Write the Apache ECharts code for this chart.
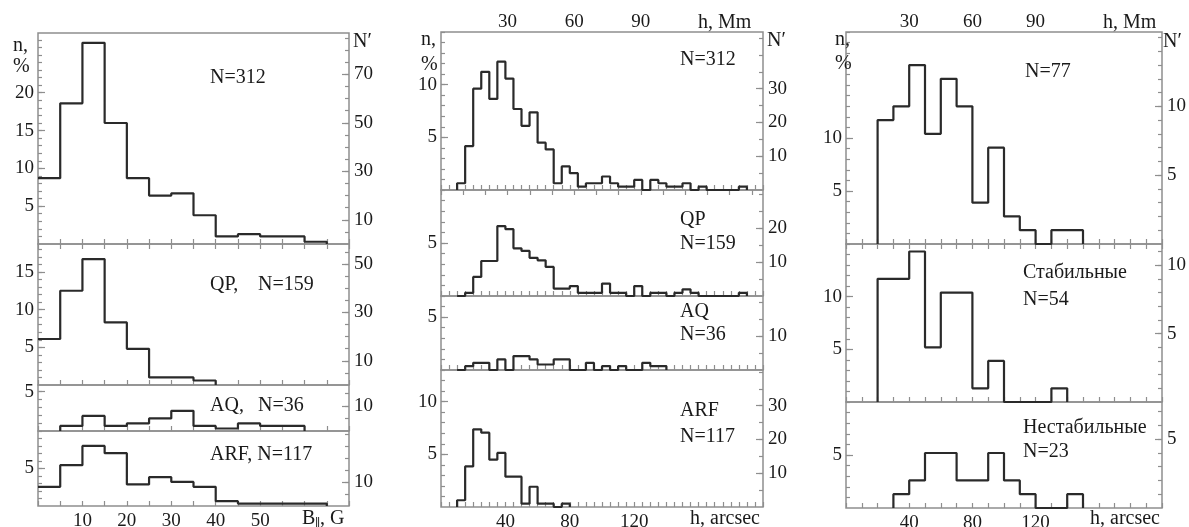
<!DOCTYPE html>
<html><head><meta charset="utf-8">
<script src="https://cdn.jsdelivr.net/npm/echarts@6/dist/echarts.min.js"></script>
<style>html,body{margin:0;padding:0;background:#fff}#c{width:1189px;height:527px}</style>
</head><body><div id="c"></div>
<script>
// ---------- DATA ----------
// Panel A: B||, G  (bin width 5 G), values in % of total (N=312)
const bStartsAll = [0,5,10,15,20,25,30,35,40,45,50,55,60];
const bAll       = [8.7,18.6,26.6,16.0,8.7,6.4,6.7,3.8,1.0,1.3,1.0,1.0,0.3];
const bStartsQP  = [0,5,10,15,20,25,30,35];
const bQP        = [6.1,12.5,16.7,8.3,4.8,1.0,1.0,0.6];
const bStartsAQ  = [5,10,15,20,25,30,35,40,45,50,55];
const bAQ        = [0.64,1.92,0.64,0.96,1.60,2.56,0.64,0.32,0.96,0.64,0.64];
const bStartsARF = [0,5,10,15,20,25,30,35,40,45,50,55,60];
const bARF       = [2.56,5.45,8.01,7.05,2.88,3.85,3.21,2.56,0.64,0.32,0.32,0.32,0.32];
const bTickLabels = [10,20,30,40,50];

// Panel B: h, arcsec (bin width 5"), % of total (N=312)
const hStarts = [10,15,20,25,30,35,40,45,50,55,60,65,70,75,80,85,90,95,100,105,110,115,120,125,130,135,140,145,150,155,160,165,170,175,180,185];
const hAll = [0.64,4.17,9.62,11.22,8.65,12.18,10.58,7.69,6.09,7.37,4.49,3.85,0.64,2.24,1.60,0.32,0.64,0.64,1.28,0.64,0.32,0.32,0.96,0,0.96,0.64,0.32,0.32,0.64,0,0.32,0,0,0,0,0.32];
const hQP  = [0,0.3,1.8,3.3,3.3,6.6,6.3,4.5,4.25,3.6,3.37,2.74,0.7,0.7,0.94,0.3,0.3,0.3,1.17,0.3,0.3,0,0.94,0,0.3,0.3,0,0.3,0.63,0.3,0,0,0,0,0,0.3];
const hStartsAQ = [10,15,20,25,30,35,40,45,50,55,60,65,70,75,80,85,90,95,100,105,110,115,120,125,130,135];
const hAQ  = [0,0.36,0.68,0.68,0,1.0,0,1.32,1.32,1.0,0.52,0.52,1.0,1.0,0,0,0.68,0,0.36,0,0.36,0,0,0.68,0.36,0.36];
const hStartsARF = [10,15,20,25,30,35,40,45,50,55,60,65,70,75];
const hARF = [0.64,3.85,7.37,7.05,4.49,5.13,2.88,2.88,0.32,1.92,0.32,0.32,0,0.32];
const hTickLabels = [40,80,120];
const mmTickLabels = [30,60,90];

// Panel C: h, arcsec (bin width 10"), % of total (N=77)
const cStartsAll = [20,30,40,50,60,70,80,90,100,110,120,130,140];
const cAll       = [11.69,12.99,16.88,10.39,15.58,12.99,3.90,9.09,2.60,1.30,0,1.30,1.30];
const cStartsSt  = [20,30,40,50,60,70,80,90,100,110,120,130];
const cStable    = [11.69,11.69,14.29,5.19,10.39,10.39,1.30,3.90,0,0,0,1.30];
const cStartsUn  = [30,40,50,60,70,80,90,100,110,120,130,140];
const cUnstable  = [1.30,2.60,5.19,5.19,2.60,2.60,5.19,2.60,1.30,0,0,1.30];

// ---------- STYLE / LAYOUT ----------
const FONT = '"Liberation Serif","DejaVu Serif",serif';
const INK = '#1a1a1a';
const LINE = '#2a2a2a';
const FRAME = '#8e8e8e';
const TICKFS = 19;

function seq(a, b, s) { const r = []; for (let i = 0; a + i * s <= b + 1e-9; i++) r.push(+(a + i * s).toFixed(4)); return r; }

const panels = [
  { left: 38, width: 311, xMax: 70, xTicks: seq(0,70,5), xLabels: bTickLabels, xBinW: 5,
    top: { max: 70, ticks: seq(0,70,5), labels: [] }, total: 312,
    subs: [
      { top: 33,  h: 211, yMax: 27.9, yLab: [5,10,15,20], rLab: [10,30,50,70], rStep: 5, starts: bStartsAll, vals: bAll },
      { top: 244, h: 141, yMax: 18.7, yLab: [5,10,15],    rLab: [10,30,50],    rStep: 5, starts: bStartsQP,  vals: bQP },
      { top: 385, h: 46,  yMax: 5.85, yLab: [5],          rLab: [10],          rStep: 5, starts: bStartsAQ,  vals: bAQ },
      { top: 431, h: 75,  yMax: 10.0, yLab: [5],          rLab: [10],          rStep: 5, starts: bStartsARF, vals: bARF }
    ] },
  { left: 441, width: 322, xMax: 200, xTicks: seq(0,200,5), xLabels: hTickLabels, xBinW: 5,
    top: { max: 145, ticks: seq(0,140,10), labels: mmTickLabels }, total: 312,
    subs: [
      { top: 32,  h: 158, yMax: 15,  yLab: [5,10], rLab: [10,20,30], rStep: 5, starts: hStarts,    vals: hAll },
      { top: 190, h: 106, yMax: 10,  yLab: [5],    rLab: [10,20],    rStep: 5, starts: hStarts,    vals: hQP },
      { top: 296, h: 74,  yMax: 7.0, yLab: [5],    rLab: [10],       rStep: 5, starts: hStartsAQ,  vals: hAQ },
      { top: 370, h: 137, yMax: 13,  yLab: [5,10], rLab: [10,20,30], rStep: 5, starts: hStartsARF, vals: hARF }
    ] },
  { left: 846, width: 316, xMax: 200, xTicks: seq(0,200,10), xLabels: hTickLabels, xBinW: 10,
    top: { max: 150, ticks: seq(0,150,7.5), labels: mmTickLabels }, total: 77,
    subs: [
      { top: 32,  h: 212, yMax: 20, yLab: [5,10], rLab: [5,10], rStep: 1, starts: cStartsAll, vals: cAll },
      { top: 244, h: 158, yMax: 15, yLab: [5,10], rLab: [5,10], rStep: 1, starts: cStartsSt,  vals: cStable },
      { top: 402, h: 106, yMax: 10, yLab: [5],    rLab: [5],    rStep: 1, starts: cStartsUn,  vals: cUnstable }
    ] }
];

function hist(starts, w, vals) {
  // outline of a histogram; the rise at the axis origin is covered by the frame, so it is skipped there
  const d = starts[0] === 0 ? [] : [[starts[0], 0]];
  vals.forEach((v, i) => d.push([starts[i], v]));
  d.push([starts[starts.length - 1] + w, 0]);
  return d;
}

const lbl = (show, vals, margin) => ({ show, customValues: vals, fontFamily: FONT, fontSize: TICKFS, color: INK, margin });
const tick = (vals, len) => ({ show: true, inside: true, length: len, customValues: vals, lineStyle: { color: FRAME, width: 1.2 } });

const option = { animation: false, backgroundColor: '#fff', grid: [], xAxis: [], yAxis: [], series: [], graphic: [] };

panels.forEach(p => {
  p.subs.forEach((s, si) => {
    const g = option.grid.length;
    option.grid.push({ left: p.left, top: s.top, width: p.width, height: s.h, show: true,
      borderColor: FRAME, borderWidth: 1.5, backgroundColor: 'rgba(0,0,0,0)', containLabel: false, outerBoundsMode: 'none' });
    const last = si === p.subs.length - 1;
    const xi = option.xAxis.length;
    option.xAxis.push({ type: 'value', gridIndex: g, position: 'bottom', min: 0, max: p.xMax,
      axisLine: { show: false }, splitLine: { show: false },
      axisTick: tick(p.xTicks, 5), axisLabel: lbl(last, p.xLabels, 6) });
    if (si === 0) {
      option.xAxis.push({ type: 'value', gridIndex: g, position: 'top', min: 0, max: p.top.max,
        axisLine: { show: false }, splitLine: { show: false },
        axisTick: tick(p.top.ticks, 5), axisLabel: lbl(p.top.labels.length > 0, p.top.labels, 0) });
    }
    const rMax = s.yMax * p.total / 100;
    const yi = option.yAxis.length;
    const base = { type: 'value', gridIndex: g, axisLine: { show: false }, splitLine: { show: false } };
    option.yAxis.push(Object.assign({}, base, { position: 'left', min: 0, max: s.yMax,
      axisTick: tick(s.yLab, 7), axisLabel: lbl(true, s.yLab, 4) }));
    option.yAxis.push(Object.assign({}, base, { position: 'left', min: 0, max: s.yMax,
      axisTick: tick(seq(1, Math.floor(s.yMax), 1), 4), axisLabel: { show: false } }));
    option.yAxis.push(Object.assign({}, base, { position: 'right', min: 0, max: rMax,
      axisTick: tick(s.rLab, 7), axisLabel: lbl(true, s.rLab, 5) }));
    option.yAxis.push(Object.assign({}, base, { position: 'right', min: 0, max: rMax,
      axisTick: tick(seq(s.rStep, Math.floor(rMax / s.rStep) * s.rStep, s.rStep), 4), axisLabel: { show: false } }));
    option.series.push({ type: 'line', xAxisIndex: xi, yAxisIndex: yi, step: 'end', symbol: 'none', clip: false,
      silent: true, lineStyle: { color: LINE, width: 2.2 }, data: hist(s.starts, p.xBinW, s.vals) });
  });
});

function txt(t, x, y, size, align) {
  option.graphic.push({ type: 'text', x, y, silent: true,
    style: { text: t, fill: INK, font: (size || 20) + 'px ' + FONT, textAlign: align || 'left', textVerticalAlign: 'middle',
      align: align || 'left', verticalAlign: 'middle' } });
}
// panel A texts
txt('n,', 13, 46); txt('%', 13, 67);
txt('N\u2032', 353, 42);
txt('N=312', 210, 78);
txt('QP,', 210, 285); txt('N=159', 258, 285);
txt('AQ,', 210, 406); txt('N=36', 258, 406);
txt('ARF, N=117', 210, 455);
txt('B', 302, 519); txt('\u2225', 315, 524, 12); txt(', G', 320, 519);
// panel B texts
txt('n,', 421, 40); txt('%', 421, 65);
txt('N\u2032', 767, 41);
txt('N=312', 680, 60);
txt('QP', 680, 220); txt('N=159', 680, 244);
txt('AQ', 680, 312); txt('N=36', 680, 335);
txt('ARF', 680, 411); txt('N=117', 680, 437);
txt('h, Mm', 698, 23);
txt('h, arcsec', 690, 519);
// panel C texts
txt('n,', 835, 40); txt('%', 835, 64);
txt('N\u2032', 1163, 42);
txt('N=77', 1025, 72);
txt('Стабильные', 1023, 273); txt('N=54', 1023, 300);
txt('Нестабильные', 1023, 428); txt('N=23', 1023, 452);
txt('h, Mm', 1103, 23);
txt('h, arcsec', 1090, 519);

const chart = echarts.init(document.getElementById('c'));
chart.setOption(option);
</script></body></html>
